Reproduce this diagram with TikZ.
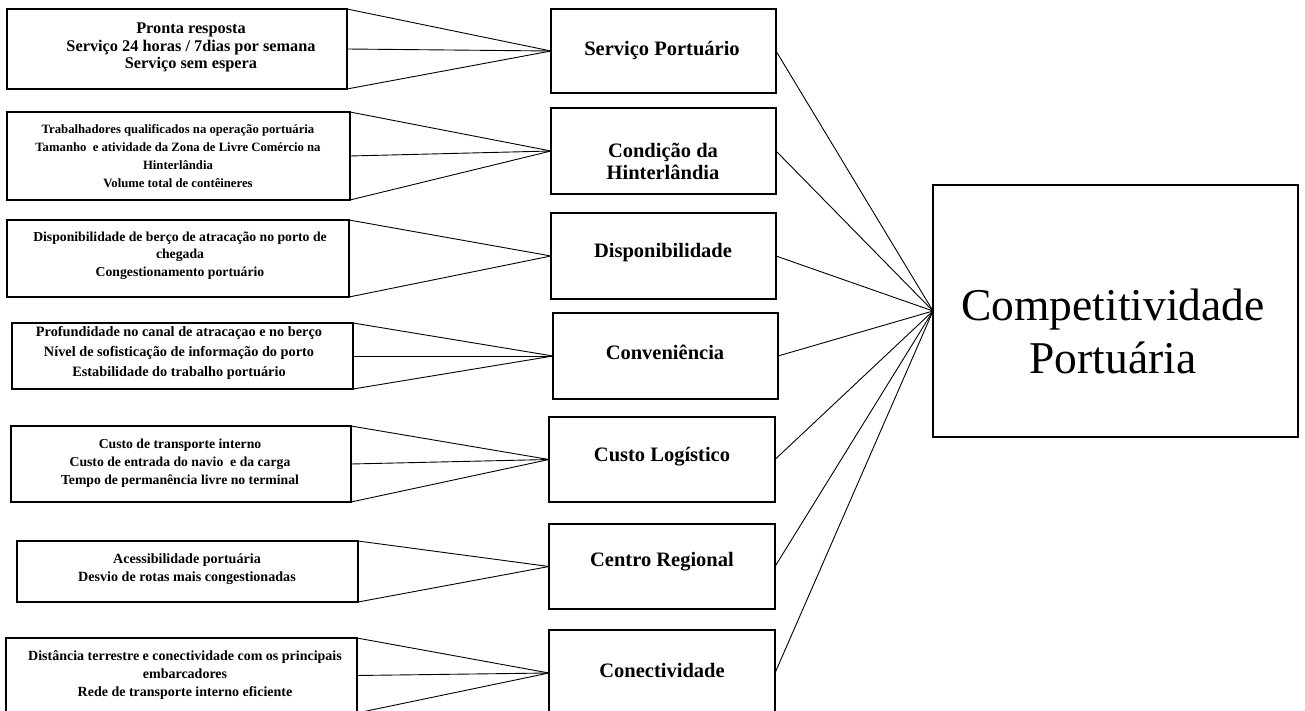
\documentclass[tikz,border=0pt]{standalone}
\usepackage{fontspec}
\setmainfont{Liberation Serif}
\newcommand\mkbox[5]{\node[box, minimum width={#4-#2}, minimum height={#5-#3}] (#1) at ({(#2+#4)/2},{(#3+#5)/2}) {};}
\begin{document}
\begin{tikzpicture}[x=1pt,y=-1pt,
  box/.style={draw, line width=1.4pt, inner sep=0pt, outer sep=0pt},
  link/.style={line width=0.9pt},
  ltxt/.style={align=center, inner sep=0pt},
  mtxt/.style={align=center, inner sep=0pt, font=\bfseries\fontsize{20.5}{22}\selectfont}]
\useasboundingbox (0,0) rectangle (1305,711);
\clip (0,0) rectangle (1305,711);
\fill[white] (0,0) rectangle (1305,711);
% left boxes
\mkbox{l1}{7}{9}{347}{89}
\mkbox{l2}{7}{112}{350}{200}
\mkbox{l3}{7}{220}{349}{297}
\mkbox{l4}{12}{323}{353}{389}
\mkbox{l5}{11}{426}{351}{502}
\mkbox{l6}{17}{541}{358}{602}
\mkbox{l7}{6}{638}{357}{713}
% middle boxes
\mkbox{m1}{551}{9}{776}{93}
\mkbox{m2}{551}{108}{776}{194}
\mkbox{m3}{551}{213}{776}{299}
\mkbox{m4}{553}{313}{778}{399}
\mkbox{m5}{549}{417}{775}{502}
\mkbox{m6}{549}{524}{775}{609}
\mkbox{m7}{549}{630}{775}{716}
% big box
\mkbox{big}{933}{185}{1298}{437}
% left texts
\node[ltxt, font=\bfseries\fontsize{16.3}{17.5}\selectfont] (t1) at (191,47.5)
  {Pronta resposta\\Serviço 24 horas / 7dias por semana\\Serviço sem espera};
\node[ltxt, font=\bfseries\fontsize{12.7}{17.8}\selectfont] (t2) at (178,156)
  {Trabalhadores qualificados na operação portuária\\Tamanho\ \ e atividade da Zona de Livre Comércio na\\Hinterlândia\\Volume total de contêineres};
\node[ltxt, font=\bfseries\fontsize{13.7}{17.5}\selectfont] (t3) at (180,255.5)
  {Disponibilidade de berço de atracação no porto de\\chegada\\Congestionamento portuário};
\node[ltxt, font=\bfseries\fontsize{14.3}{20}\selectfont] (t4) at (179,353)
  {Profundidade no canal de atracaçao e no berço\\Nível de sofisticação de informação do porto\\Estabilidade do trabalho portuário};
\node[ltxt, font=\bfseries\fontsize{13.7}{17.8}\selectfont] (t5) at (180,463)
  {Custo de transporte interno\\Custo de entrada do navio\ \ e da carga\\Tempo de permanência livre no terminal};
\node[ltxt, font=\bfseries\fontsize{14.1}{17.8}\selectfont] (t6) at (187,569)
  {Acessibilidade portuária\\Desvio de rotas mais congestionadas};
\node[ltxt, font=\bfseries\fontsize{14}{18}\selectfont] (t7) at (185,675)
  {Distância terrestre e conectividade com os principais\\embarcadores\\Rede de transporte interno eficiente};
% middle texts
\node[mtxt] (s1) at (662,50) {Serviço Portuário};
\node[mtxt] (s2) at (663,161) {Condição da\\Hinterlândia};
\node[mtxt] (s3) at (663,253) {Disponibilidade};
\node[mtxt] (s4) at (665,352) {Conveniência};
\node[mtxt] (s5) at (662,457) {Custo Logístico};
\node[mtxt] (s6) at (662,562) {Centro Regional};
\node[mtxt] (s7) at (662,670) {Conectividade};
% big text
\node[ltxt, font=\fontsize{45.5}{53}\selectfont] (tb) at (1113,331) {Competitividade\\Portuária};
% left connectors
\foreach \i in {1,2,4,5,7}{
  \draw[link] (l\i.north east) -- (m\i.west);
  \draw[link] (l\i.east) -- (m\i.west);
  \draw[link] (l\i.south east) -- (m\i.west);
}
\foreach \i in {3,6}{
  \draw[link] (l\i.north east) -- (m\i.west);
  \draw[link] (l\i.south east) -- (m\i.west);
}
% right connectors
\foreach \i in {1,...,7}{
  \draw[link] (m\i.east) -- (big.west);
}
\end{tikzpicture}
\end{document}
